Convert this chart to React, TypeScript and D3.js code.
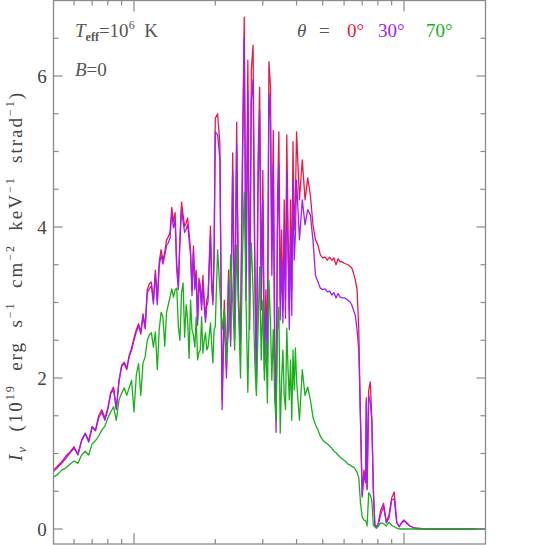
import React from "react";
import * as d3 from "d3";

// Photon energy grid (keV)
const energy = [
  0.50, 0.52, 0.54, 0.56, 0.58, 0.60, 0.62, 0.64, 0.66, 0.68, 0.70, 0.72, 0.74, 0.76, 0.78, 0.80, 0.82, 0.84, 0.86, 0.88, 0.90, 0.92, 0.94, 0.96, 0.98, 1.00,
  1.02, 1.04, 1.06, 1.08, 1.10, 1.12, 1.14, 1.16, 1.18, 1.20, 1.22, 1.24, 1.26, 1.28, 1.30, 1.32, 1.34, 1.36, 1.38, 1.40, 1.42, 1.44, 1.46, 1.48, 1.50,
  1.52, 1.54, 1.56, 1.58, 1.60, 1.62, 1.64, 1.66, 1.68, 1.70, 1.72, 1.74, 1.76, 1.78, 1.80, 1.82, 1.84, 1.86, 1.88, 1.90, 1.92, 1.94, 1.96, 1.98, 2.00,
  2.04, 2.08, 2.12, 2.16, 2.20, 2.24, 2.28, 2.32, 2.36, 2.40, 2.44, 2.48, 2.52, 2.56, 2.60, 2.64, 2.68, 2.72, 2.76, 2.80, 2.84, 2.88, 2.92, 2.96, 3.00,
  3.04, 3.08, 3.12, 3.16, 3.20, 3.24, 3.28, 3.32, 3.36, 3.40, 3.44, 3.48, 3.52, 3.56, 3.60, 3.64, 3.68, 3.72, 3.76, 3.80, 3.84, 3.88, 3.92, 3.96, 4.00,
  4.1, 4.2, 4.3, 4.4, 4.5, 4.6, 4.7, 4.8, 4.9, 5.0, 5.1, 5.2, 5.3, 5.4, 5.5, 5.6, 5.7, 5.8, 5.9, 6.0, 6.1, 6.2, 6.3, 6.4, 6.5, 6.6,
  6.7, 6.8, 6.9, 7.0, 7.1, 7.2, 7.25, 7.3, 7.4, 7.5, 7.6, 7.7, 7.8, 7.9, 8.0, 8.2, 8.4, 8.6, 8.8, 9.0, 9.2, 9.4, 9.6, 9.8, 10.0, 10.5, 11, 12, 14, 16, 18, 20,
];

// theta = 0 deg
const intensity0 = [
  0.77, 0.83, 0.89, 0.97, 1.02, 1.09, 0.99, 1.18, 1.27, 1.17, 1.36, 1.31, 1.50, 1.58, 1.47, 1.60, 1.81, 1.88, 1.60, 1.97, 2.17, 2.21, 2.13, 2.30, 2.40, 2.53,
  2.64, 2.72, 2.61, 2.85, 2.68, 3.17, 3.25, 3.27, 3.03, 3.43, 3.03, 3.54, 3.70, 3.56, 3.67, 3.83, 3.87, 3.93, 4.26, 4.07, 4.19, 3.50, 3.25, 3.88, 4.33,
  4.16, 4.01, 4.05, 4.12, 3.92, 3.70, 3.17, 3.75, 3.26, 3.43, 2.77, 3.32, 3.23, 2.97, 3.36, 3.03, 2.81, 3.03, 3.09, 3.56, 4.01, 3.27, 3.03, 3.70, 5.44,
  5.50, 5.10, 1.71, 3.03, 2.11, 3.43, 2.50, 4.98, 2.64, 5.39, 3.03, 2.50, 4.89, 6.78, 3.30, 6.21, 2.77, 6.08, 6.41, 3.70, 1.97, 4.89, 5.85, 3.17, 4.75,
  2.24, 3.17, 2.37, 6.19, 5.88, 3.70, 5.28, 2.50, 1.44, 4.36, 5.26, 3.03, 3.96, 2.90, 4.36, 3.03, 5.22, 3.96, 2.90, 4.36, 3.17, 5.13, 3.96, 4.36, 5.26,
  4.36, 4.89, 4.36, 4.65, 4.42, 4.03, 3.83, 3.76, 3.63, 3.59, 3.60, 3.56, 3.60, 3.56, 3.59, 3.50, 3.58, 3.54, 3.54, 3.52, 3.51, 3.50, 3.48, 3.46, 3.39, 3.30,
  3.17, 2.64, 1.44, 0.45, 0.78, 0.65, 1.74, 0.54, 1.84, 1.95, 1.44, 0.52, 0.05, 0.04, 0.05, 0.25, 0.34, 0.09, 0.19, 0.41, 0.49, 0.09, 0.03, 0.09, 0.12, 0.04, 0.01, 0, 0, 0, 0, 0,
];

// theta = 30 deg
const intensity30 = [
  0.75, 0.81, 0.87, 0.94, 1.01, 1.07, 0.98, 1.17, 1.26, 1.15, 1.35, 1.30, 1.47, 1.55, 1.44, 1.58, 1.79, 1.85, 1.58, 1.95, 2.15, 2.19, 2.11, 2.28, 2.37, 2.50,
  2.61, 2.69, 2.58, 2.82, 2.65, 3.13, 3.18, 3.22, 2.98, 3.38, 2.97, 3.48, 3.63, 3.51, 3.62, 3.76, 3.79, 3.85, 4.19, 3.99, 4.09, 3.43, 3.17, 3.80, 4.23,
  4.07, 3.93, 3.97, 4.03, 3.83, 3.62, 3.09, 3.67, 3.17, 3.35, 2.70, 3.25, 3.14, 2.90, 3.28, 2.95, 2.74, 2.95, 3.01, 3.46, 3.89, 3.19, 2.97, 3.56, 5.26,
  5.22, 4.90, 1.58, 2.90, 2.00, 3.30, 2.42, 4.75, 2.53, 5.09, 2.90, 2.44, 4.62, 6.50, 3.03, 5.81, 2.64, 5.68, 5.95, 3.43, 1.84, 4.49, 5.55, 2.90, 4.36,
  2.11, 2.90, 2.21, 5.77, 5.42, 3.36, 4.82, 2.30, 1.28, 3.96, 4.82, 2.77, 3.56, 2.73, 3.96, 2.79, 4.75, 3.56, 2.64, 3.96, 2.83, 4.62, 3.56, 3.89, 4.62,
  3.83, 4.36, 4.03, 4.23, 4.16, 3.83, 3.36, 3.27, 3.19, 3.17, 3.18, 3.14, 3.15, 3.10, 3.13, 3.06, 3.12, 3.07, 3.06, 3.06, 3.05, 3.03, 3.01, 2.97, 2.90, 2.83,
  2.64, 2.37, 1.44, 0.42, 0.72, 0.61, 1.68, 0.52, 1.77, 1.68, 1.44, 0.49, 0.04, 0.03, 0.04, 0.19, 0.30, 0.08, 0.15, 0.38, 0.40, 0.08, 0.03, 0.08, 0.11, 0.04, 0.01, 0, 0, 0, 0, 0,
];

// theta = 70 deg
const intensity70 = [
  0.68, 0.72, 0.78, 0.81, 0.86, 0.90, 0.87, 0.98, 1.03, 0.98, 1.13, 1.17, 1.23, 1.31, 1.36, 1.47, 1.55, 1.62, 1.44, 1.71, 1.80, 1.87, 1.77, 1.87, 1.97, 1.55,
  2.04, 2.19, 1.77, 2.20, 2.28, 2.50, 2.57, 2.60, 2.41, 2.61, 2.11, 2.64, 2.87, 2.81, 2.42, 2.87, 2.97, 3.07, 3.18, 3.07, 3.17, 3.19, 2.68, 2.50, 3.13,
  3.26, 2.54, 2.97, 2.77, 2.26, 3.03, 2.64, 2.57, 2.41, 2.81, 2.24, 2.34, 2.37, 2.81, 2.33, 2.50, 2.60, 2.37, 2.41, 2.57, 2.73, 2.44, 2.20, 2.64, 2.68,
  3.70, 3.17, 2.64, 2.90, 2.24, 2.64, 3.63, 3.03, 2.37, 3.76, 2.90, 2.00, 3.56, 4.46, 3.03, 1.81, 3.03, 3.79, 3.17, 2.24, 1.77, 2.64, 3.47, 2.24, 3.03,
  1.97, 2.50, 1.67, 3.30, 2.77, 1.97, 2.64, 1.71, 1.44, 2.64, 2.94, 1.27, 1.97, 2.37, 1.77, 1.58, 2.66, 2.11, 1.71, 2.24, 1.44, 2.37, 1.84, 2.40, 1.97,
  1.44, 2.11, 1.77, 1.88, 1.71, 1.48, 1.38, 1.31, 1.23, 1.18, 1.15, 1.13, 1.10, 1.07, 1.03, 1.01, 0.98, 0.95, 0.93, 0.91, 0.89, 0.86, 0.85, 0.83, 0.82, 0.79,
  0.75, 0.68, 0.34, 0.16, 0.12, 0.11, 0.09, 0.04, 0.48, 0.45, 0.38, 0.05, 0.03, 0.01, 0.03, 0.08, 0.07, 0.04, 0.09, 0.05, 0.03, 0.01, 0, 0, 0, 0, 0, 0, 0, 0, 0, 0,
];

const seriesColors = ["#ee1744", "#a21cf5", "#18b018"];
const seriesLabels = ["0°", "30°", "70°"];

const xMajorTicks = [1, 10];
const xMinorTicks = [0.6, 0.7, 0.8, 0.9, 2, 3, 4, 5, 6, 7, 8, 9];
const yMajorTicks = [0, 2, 4, 6];
const yMinorTicks = [0.5, 1, 1.5, 2.5, 3, 3.5, 4.5, 5, 5.5, 6.5];

export default function App() {
  const W = 539;
  const H = 545;
  const L = 53.5, R = 485.5, T = 0.5, B = 544;
  const x = d3.scaleLog().domain([0.5, 20]).range([52.7, 485.3]);
  const y = d3.scaleLinear().domain([0, 6]).range([529, 76]);

  const series = [intensity0, intensity30, intensity70];
  const line = d3
    .line<number>()
    .x((_, i) => x(energy[i]))
    .y((d) => y(d));

  const axisColor = "#8a8a8a";
  const font = "'Liberation Serif', 'DejaVu Serif', serif";
  const sup = 12;

  return (
    <div style={{ position: "absolute", left: 0, top: 0 }}>
      <svg width={W} height={H} style={{ display: "block", background: "#fff" }}>
        <defs>
          <clipPath id="plot">
            <rect x={L} y={T} width={R - L} height={B - T} />
          </clipPath>
        </defs>
        <g clipPath="url(#plot)" fill="none" strokeWidth={1.3} strokeLinejoin="round">
          {series.map((s, i) => (
            <path key={i} d={line(s) || ""} stroke={seriesColors[i]} />
          ))}
        </g>
        {/* frame */}
        <rect x={L} y={T} width={R - L} height={B - T} fill="none" stroke={axisColor} strokeWidth={1.3} />
        {/* ticks */}
        <g stroke={axisColor} strokeWidth={1.2}>
          {xMajorTicks.map((t) => (
            <g key={"xM" + t}>
              <line x1={x(t)} x2={x(t)} y1={B} y2={B - 11} />
              <line x1={x(t)} x2={x(t)} y1={T} y2={T + 11} />
            </g>
          ))}
          {xMinorTicks.map((t) => (
            <g key={"xm" + t}>
              <line x1={x(t)} x2={x(t)} y1={B} y2={B - 5} />
              <line x1={x(t)} x2={x(t)} y1={T} y2={T + 5} />
            </g>
          ))}
          {yMajorTicks.map((t) => (
            <g key={"yM" + t}>
              <line x1={L} x2={L + 9} y1={y(t)} y2={y(t)} />
              <line x1={R} x2={R - 9} y1={y(t)} y2={y(t)} />
            </g>
          ))}
          {yMinorTicks.map((t) => (
            <g key={"ym" + t}>
              <line x1={L} x2={L + 5} y1={y(t)} y2={y(t)} />
              <line x1={R} x2={R - 5} y1={y(t)} y2={y(t)} />
            </g>
          ))}
        </g>
        {/* y tick labels */}
        <g fontFamily={font} fontSize={19} fill="#444" textAnchor="middle">
          {yMajorTicks.map((t) => (
            <text key={"yl" + t} x={42} y={y(t) + 6.5}>
              {String(t)}
            </text>
          ))}
        </g>
        {/* y axis label */}
        <text
          transform={`translate(22,277) rotate(-90)`}
          fontFamily={font}
          fontSize={19}
          fill="#444"
          textAnchor="middle"
          xmlSpace="preserve"
          textLength={368}
          lengthAdjust="spacing"
          style={{ whiteSpace: "pre" }}
        >
          <tspan fontStyle="italic">I</tspan>
          <tspan fontStyle="italic" fontSize={13} dy={4}>ν</tspan>
          <tspan dy={-4}>{"  (10"}</tspan>
          <tspan fontSize={sup} dy={-8}>19</tspan>
          <tspan dy={8}>{"  erg  s"}</tspan>
          <tspan fontSize={sup} dy={-8}>−1</tspan>
          <tspan dy={8}>{"  cm"}</tspan>
          <tspan fontSize={sup} dy={-8}>−2</tspan>
          <tspan dy={8}>{"  keV"}</tspan>
          <tspan fontSize={sup} dy={-8}>−1</tspan>
          <tspan dy={8}>{"  strad"}</tspan>
          <tspan fontSize={sup} dy={-8}>−1</tspan>
          <tspan dy={8}>)</tspan>
        </text>
        {/* annotations */}
        <g fontFamily={font} fontSize={19} fill="#555">
          <text x={75} y={37} xmlSpace="preserve" style={{ whiteSpace: "pre" }}>
            <tspan fontStyle="italic">T</tspan>
            <tspan fontSize={12} fontWeight="bold" dy={4}>eff</tspan>
            <tspan dy={-4}>=10</tspan>
            <tspan fontSize={sup} dy={-8}>6</tspan>
            <tspan dy={8}>{"  K"}</tspan>
          </text>
          <text x={75} y={76}>
            <tspan fontStyle="italic">B</tspan>
            <tspan>=0</tspan>
          </text>
          <text x={297} y={37} fontStyle="italic">θ</text>
          <text x={319} y={37}>=</text>
          <text x={347} y={37} fill={seriesColors[0]}>{seriesLabels[0]}</text>
          <text x={378} y={37} fill={seriesColors[1]}>{seriesLabels[1]}</text>
          <text x={426} y={37} fill={seriesColors[2]}>{seriesLabels[2]}</text>
        </g>
      </svg>
    </div>
  );
}
